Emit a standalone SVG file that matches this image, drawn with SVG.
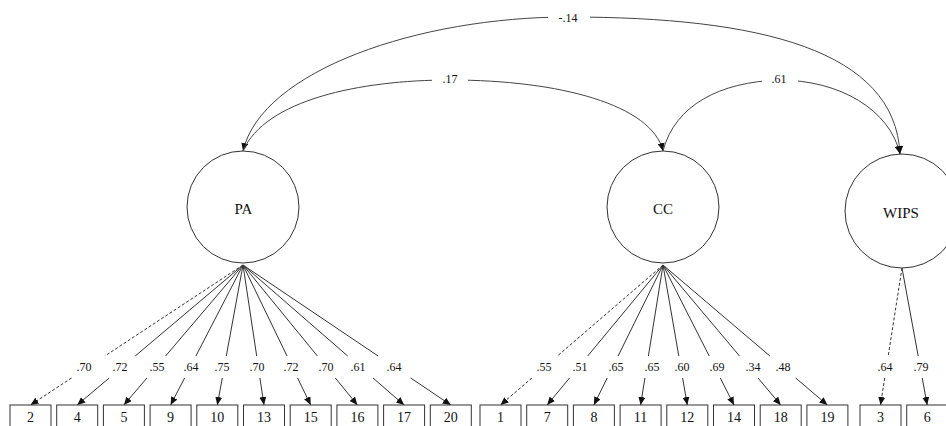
<svg xmlns="http://www.w3.org/2000/svg" width="946" height="426" viewBox="0 0 946 426">
<style>
text{font-family:"Liberation Serif","Times New Roman",serif;fill:#111}
.lat{fill:#fff;stroke:#333;stroke-width:1}
.lat text{font-size:15px;text-anchor:middle}
.box rect{fill:#fff;stroke:#333;stroke-width:1}
.box text{font-size:14px;text-anchor:middle}
.ln{fill:none;stroke:#333;stroke-width:1}
.ds{stroke-dasharray:3,2}
.lab{font-size:12px;text-anchor:middle}
.arc{fill:none;stroke:#444;stroke-width:1}
</style>
<defs>
<marker id="ah" viewBox="0 0 8 7" refX="8" refY="3.5" markerWidth="8" markerHeight="7" orient="auto-start-reverse" markerUnits="userSpaceOnUse"><path d="M0,0 L8,3.5 L0,7 z" fill="#111"/></marker>
</defs>

<g id="connectors">
  <!-- covariances -->
  <path class="arc" d="M243,151 C262,70 420,17 568,17 C760,17 895,50 900,154" marker-start="url(#ah)" marker-end="url(#ah)"/>
  <path class="arc" d="M243,151 C265,100 360,80 450,80 C560,80 652,105 663,151" marker-end="url(#ah)"/>
  <path class="arc" d="M663,151 C675,105 720,82 779,80 C840,80 890,110 900,154" marker-end="url(#ah)"/>
  <rect x="548" y="9" width="42" height="16" fill="#fff"/>
  <rect x="432" y="72" width="36" height="16" fill="#fff"/>
  <rect x="762" y="72" width="36" height="16" fill="#fff"/>
  <text class="lab" x="568" y="22">-.14</text>
  <text class="lab" x="450" y="83">.17</text>
  <text class="lab" x="779" y="83">.61</text>

  <!-- PA loadings -->
  <g class="ln">
    <path class="ds" d="M243,265 L104.9,356 M71.5,378 L30.5,405" marker-end="url(#ah)"/>
    <path d="M243,265 L135.2,356 M109.2,378 L77.2,405" marker-end="url(#ah)"/>
    <path d="M243,265 L165.6,356 M146.9,378 L123.9,405" marker-end="url(#ah)"/>
    <path d="M243,265 L195.9,356 M184.6,378 L170.6,405" marker-end="url(#ah)"/>
    <path d="M243,265 L226.3,356 M222.3,378 L217.3,405" marker-end="url(#ah)"/>
    <path d="M243,265 L256.7,356 M259.9,378 L264,405" marker-end="url(#ah)"/>
    <path d="M243,265 L287,356 M297.6,378 L310.7,405" marker-end="url(#ah)"/>
    <path d="M243,265 L317.4,356 M335.3,378 L357.4,405" marker-end="url(#ah)"/>
    <path d="M243,265 L347.7,356 M373,378 L404.1,405" marker-end="url(#ah)"/>
    <path d="M243,265 L378.1,356 M410.7,378 L450.8,405" marker-end="url(#ah)"/>
  </g>
  <text class="lab" x="84" y="371">.70</text>
  <text class="lab" x="120" y="371">.72</text>
  <text class="lab" x="157" y="371">.55</text>
  <text class="lab" x="191" y="371">.64</text>
  <text class="lab" x="222" y="371">.75</text>
  <text class="lab" x="257" y="371">.70</text>
  <text class="lab" x="291" y="371">.72</text>
  <text class="lab" x="326" y="371">.70</text>
  <text class="lab" x="358" y="371">.61</text>
  <text class="lab" x="394" y="371">.64</text>

  <!-- CC loadings -->
  <g class="ln">
    <path class="ds" d="M663,265 L557.4,356 M531.9,378 L500.5,405" marker-end="url(#ah)"/>
    <path d="M663,265 L587.7,356 M569.5,378 L547.2,405" marker-end="url(#ah)"/>
    <path d="M663,265 L618.1,356 M607.2,378 L593.9,405" marker-end="url(#ah)"/>
    <path d="M663,265 L648.4,356 M644.9,378 L640.6,405" marker-end="url(#ah)"/>
    <path d="M663,265 L678.8,356 M682.6,378 L687.3,405" marker-end="url(#ah)"/>
    <path d="M663,265 L709.2,356 M720.3,378 L734,405" marker-end="url(#ah)"/>
    <path d="M663,265 L739.5,356 M758,378 L780.7,405" marker-end="url(#ah)"/>
    <path d="M663,265 L769.9,356 M795.7,378 L827.4,405" marker-end="url(#ah)"/>
  </g>
  <text class="lab" x="544" y="371">.55</text>
  <text class="lab" x="580" y="371">.51</text>
  <text class="lab" x="616" y="371">.65</text>
  <text class="lab" x="652" y="371">.65</text>
  <text class="lab" x="682" y="371">.60</text>
  <text class="lab" x="717" y="371">.69</text>
  <text class="lab" x="753" y="371">.34</text>
  <text class="lab" x="783" y="371">.48</text>

  <!-- WIPS loadings -->
  <g class="ln">
    <path class="ds" d="M902,268 L888.2,356 M884.7,378 L880.5,405" marker-end="url(#ah)"/>
    <path d="M902,268 L918.2,356 M922.2,378 L927.2,405" marker-end="url(#ah)"/>
  </g>
  <text class="lab" x="885" y="371">.64</text>
  <text class="lab" x="921" y="371">.79</text>
</g>

<g id="PA" class="lat"><circle cx="243" cy="207" r="56"/><text x="243.5" y="214" stroke="none">PA</text></g>
<g id="CC" class="lat"><circle cx="663" cy="207" r="56"/><text x="663" y="214" stroke="none">CC</text></g>
<g id="WIPS" class="lat"><circle cx="902" cy="211" r="57"/><text x="901" y="218" stroke="none">WIPS</text></g>

<g id="item2" class="box"><rect x="10" y="405" width="41" height="30"/><text x="30.5" y="422">2</text></g>
<g id="item4" class="box"><rect x="56.7" y="405" width="41" height="30"/><text x="77.2" y="422">4</text></g>
<g id="item5" class="box"><rect x="103.4" y="405" width="41" height="30"/><text x="123.9" y="422">5</text></g>
<g id="item9" class="box"><rect x="150.1" y="405" width="41" height="30"/><text x="170.6" y="422">9</text></g>
<g id="item10" class="box"><rect x="196.8" y="405" width="41" height="30"/><text x="217.3" y="422">10</text></g>
<g id="item13" class="box"><rect x="243.5" y="405" width="41" height="30"/><text x="264" y="422">13</text></g>
<g id="item15" class="box"><rect x="290.2" y="405" width="41" height="30"/><text x="310.7" y="422">15</text></g>
<g id="item16" class="box"><rect x="336.9" y="405" width="41" height="30"/><text x="357.4" y="422">16</text></g>
<g id="item17" class="box"><rect x="383.6" y="405" width="41" height="30"/><text x="404.1" y="422">17</text></g>
<g id="item20" class="box"><rect x="430.3" y="405" width="41" height="30"/><text x="450.8" y="422">20</text></g>

<g id="item1" class="box"><rect x="480" y="405" width="41" height="30"/><text x="500.5" y="422">1</text></g>
<g id="item7" class="box"><rect x="526.7" y="405" width="41" height="30"/><text x="547.2" y="422">7</text></g>
<g id="item8" class="box"><rect x="573.4" y="405" width="41" height="30"/><text x="593.9" y="422">8</text></g>
<g id="item11" class="box"><rect x="620.1" y="405" width="41" height="30"/><text x="640.6" y="422">11</text></g>
<g id="item12" class="box"><rect x="666.8" y="405" width="41" height="30"/><text x="687.3" y="422">12</text></g>
<g id="item14" class="box"><rect x="713.5" y="405" width="41" height="30"/><text x="734" y="422">14</text></g>
<g id="item18" class="box"><rect x="760.2" y="405" width="41" height="30"/><text x="780.7" y="422">18</text></g>
<g id="item19" class="box"><rect x="806.9" y="405" width="41" height="30"/><text x="827.4" y="422">19</text></g>

<g id="item3" class="box"><rect x="860" y="405" width="41" height="30"/><text x="880.5" y="422">3</text></g>
<g id="item6" class="box"><rect x="906.7" y="405" width="41" height="30"/><text x="927.2" y="422">6</text></g>
</svg>
